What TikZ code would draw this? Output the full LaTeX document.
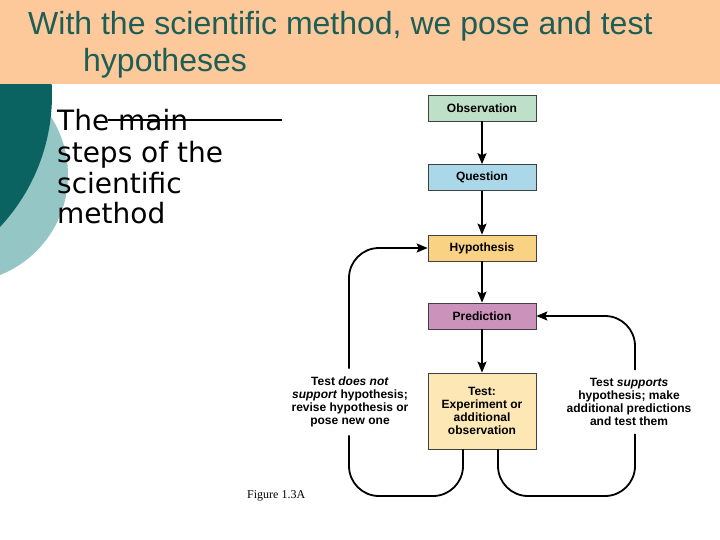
\documentclass[tikz,border=0pt]{standalone}
\usepackage{fontspec}
\setmainfont{Liberation Sans}
\newfontfamily\stepsfont{DejaVu Sans}
\newfontfamily\captionfont{Liberation Serif}
\usetikzlibrary{arrows.meta}
\definecolor{headpeach}{HTML}{FDC99B}
\definecolor{titleteal}{HTML}{1D5E57}
\definecolor{darkteal}{HTML}{0A6360}
\definecolor{lightteal}{HTML}{94C6C6}
\definecolor{obsgreen}{HTML}{BFE0C8}
\definecolor{quesblue}{HTML}{ABD8E8}
\definecolor{hypoorange}{HTML}{FAD284}
\definecolor{predmauve}{HTML}{CB92BC}
\definecolor{testyellow}{HTML}{FDE7B4}

\begin{document}
\begin{tikzpicture}[x=1pt, y=-1pt,
    stepbox/.style={draw=black!75, line width=0.7pt, minimum width=108pt, minimum height=26pt,
        inner sep=0pt, align=center, font=\fontsize{12}{13}\selectfont\bfseries},
    flow/.style={line width=1.8pt, -{Stealth[length=11pt, width=9pt, inset=2pt]}},
    loop/.style={line width=1.8pt, rounded corners=30pt},
    note/.style={align=center, inner xsep=0pt, inner ysep=8pt, font=\fontsize{12}{13}\selectfont\bfseries}]
    \useasboundingbox (0,0) rectangle (720,540);
    \fill[white] (0,0) rectangle (720,540);
    % slide background
    \begin{scope}
        \clip (0,0) rectangle (720,540);
        \fill[lightteal] (-39.5,175) circle (107.5);
        \fill[darkteal] (-141.5,95) circle (193.5);
        \fill[headpeach] (0,0) rectangle (720,84);
    \end{scope}
    \node[anchor=base west, inner sep=0pt, text=titleteal, font=\fontsize{32}{33}\selectfont] (title1) at (28,35) {With the scientific method, we pose and test};
    \node[anchor=base west, inner sep=0pt, text=titleteal, font=\fontsize{32}{33}\selectfont] (title2) at (83,72) {hypotheses};
    \node[anchor=base west, inner sep=0pt, align=left, font=\fontsize{28}{31}\selectfont\stepsfont] (steps) at (57,224) {The main\\steps of the\\scientific\\method};
    \draw[line width=1.2pt] (108,120) -- (282,120);
    % the steps
    \node[stepbox, fill=obsgreen] (obs) at (482,108) {Observation};
    \node[stepbox, fill=quesblue] (que) at (482,177.5) {Question};
    \node[stepbox, fill=hypoorange] (hyp) at (482,248) {Hypothesis};
    \node[stepbox, fill=predmauve] (pre) at (482,316) {Prediction};
    \node[stepbox, fill=testyellow, minimum height=76pt] (tst) at (482,411) {Test:\\Experiment or\\additional\\observation};
    \draw[flow] (obs) -- (que);
    \draw[flow] (que) -- (hyp);
    \draw[flow] (hyp) -- (pre);
    \draw[flow] (pre) -- (tst);
    % loops back
    \node[note] (nosup) at (350,402) {Test \textit{does not}\\\textit{support} hypothesis;\\revise hypothesis or\\pose new one};
    \node[note] (yessup) at (629,402) {Test \textit{supports}\\hypothesis; make\\additional predictions\\and test them};
    \coordinate (lcorner) at (349,496);
    \coordinate (ltop) at (349,248);
    \coordinate (rcorner) at (635,496);
    \coordinate (rtop) at (635,316);
    \draw[loop] ([xshift=-19pt]tst.south) |- (lcorner) -- (lcorner |- nosup.south);
    \draw[loop, flow] (ltop |- nosup.north) -- (ltop) -- (hyp.west);
    \draw[loop] ([xshift=16pt]tst.south) |- (rcorner) -- (rcorner |- yessup.south);
    \draw[loop, flow] (rtop |- yessup.north) -- (rtop) -- (pre.east);
    \node[anchor=base west, inner sep=0pt, font=\fontsize{12}{13}\selectfont\captionfont] (figlabel) at (247,498) {Figure 1.3A};
\end{tikzpicture}
\end{document}
